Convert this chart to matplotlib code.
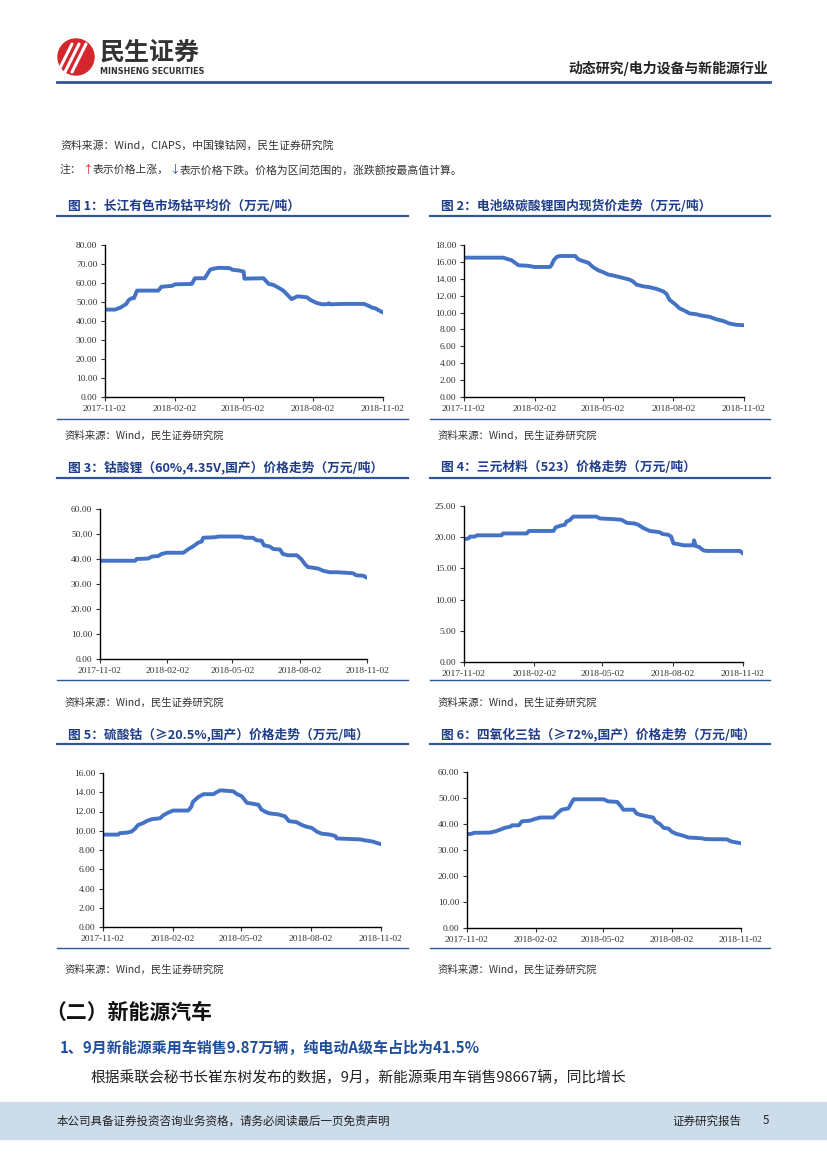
import numpy as np
import pandas as pd
import matplotlib
matplotlib.use("Agg")
import matplotlib.pyplot as plt
from matplotlib.patches import Circle, Rectangle

plt.rcParams['font.family'] = ['Noto Sans CJK SC', 'DejaVu Sans']

W, H = 827, 1169
start = pd.Timestamp('2017-11-02')
tick_dates = ['2017-11-02', '2018-02-02', '2018-05-02', '2018-08-02', '2018-11-02']

# 图1 长江有色市场钴平均价
days1 = [0, 13, 20, 22, 28, 31, 35, 38, 42, 70, 74, 88, 92, 114, 118, 131, 138, 142, 149, 164,
         167, 177, 182, 183, 208, 215, 221, 228, 234, 239, 245, 250, 253, 265, 270, 278, 285,
         291, 294, 296, 313, 340, 346, 351, 355, 359, 365]
vals1 = [46, 46, 47, 47.5, 49, 51, 52, 52, 56, 56, 58, 58.5, 59.3, 59.5, 62.5, 62.5, 67, 67.5, 68,
         67.8, 67, 66.5, 66, 62.3, 62.5, 59.5, 59, 57.5, 56, 54, 51.5, 52.5, 53, 52.5, 51, 49.5,
         48.8, 48.8, 49.3, 48.8, 49, 49, 48, 47, 46.7, 45.7, 44.5]

# 图2 电池级碳酸锂
days2 = [0, 51, 58, 62, 68, 71, 82, 86, 92, 112, 114, 117, 121, 125, 145, 149, 155, 162, 168,
         175, 181, 188, 194, 203, 216, 220, 225, 234, 242, 251, 260, 264, 268, 275, 281, 288,
         294, 303, 309, 320, 329, 338, 346, 355, 365]
vals2 = [16.5, 16.5, 16.3, 16.2, 15.8, 15.6, 15.55, 15.5, 15.4, 15.4, 15.6, 16.2, 16.6, 16.7,
         16.7, 16.3, 16.1, 15.9, 15.4, 15.0, 14.8, 14.5, 14.4, 14.2, 13.9, 13.7, 13.3, 13.1,
         13.0, 12.8, 12.5, 12.2, 11.5, 11.0, 10.5, 10.2, 9.9, 9.8, 9.65, 9.5, 9.2, 9.0, 8.7,
         8.55, 8.5]

# 图3 钴酸锂
days3 = [0, 48, 50, 66, 71, 80, 84, 91, 114, 121, 127, 134, 139, 141, 157, 162, 193, 198, 209,
         214, 221, 224, 232, 237, 246, 250, 257, 269, 275, 280, 284, 298, 305, 314, 325, 346,
         350, 360, 365]
vals3 = [39.3, 39.3, 40, 40.2, 41, 41.2, 42, 42.5, 42.5, 44, 45, 46.5, 47, 48.5, 48.7, 49, 49,
         48.5, 48.5, 47.5, 47.3, 45.5, 45, 44, 43.8, 42, 41.5, 41.5, 40, 38, 36.8, 36.2, 35.3,
         34.7, 34.7, 34.3, 33.5, 33.3, 32.5]

# 图4 三元材料(523)
days4 = [0, 6, 8, 14, 17, 49, 51, 82, 85, 117, 120, 128, 132, 134, 138, 143, 173, 178, 195,
         206, 213, 223, 228, 234, 243, 256, 260, 267, 271, 274, 280, 287, 300, 301, 303, 308,
         313, 317, 361, 365]
vals4 = [19.7, 19.8, 20.1, 20.1, 20.3, 20.3, 20.6, 20.6, 21, 21, 21.6, 21.9, 22, 22.5, 22.7,
         23.3, 23.3, 23.0, 22.9, 22.8, 22.3, 22.2, 22.0, 21.5, 21.0, 20.8, 20.5, 20.4, 20.1,
         19.0, 18.9, 18.7, 18.7, 19.5, 18.6, 18.4, 17.9, 17.8, 17.8, 17.4]

# 图5 硫酸钴
days5 = [0, 20, 22, 31, 37, 42, 46, 53, 57, 64, 75, 79, 86, 92, 112, 116, 118, 125, 132, 145,
         149, 154, 171, 176, 182, 189, 197, 204, 208, 215, 219, 230, 239, 244, 254, 261, 268,
         274, 281, 287, 298, 305, 307, 338, 344, 353, 365]
vals5 = [9.6, 9.6, 9.75, 9.8, 9.9, 10.2, 10.6, 10.8, 11.0, 11.2, 11.3, 11.6, 11.9, 12.1, 12.1,
         12.5, 13.0, 13.5, 13.8, 13.8, 14.0, 14.2, 14.1, 13.8, 13.6, 12.9, 12.8, 12.7, 12.2,
         11.9, 11.8, 11.7, 11.5, 11.0, 10.9, 10.6, 10.4, 10.3, 9.9, 9.7, 9.6, 9.45, 9.2, 9.1,
         9.0, 8.9, 8.6]

# 图6 四氧化三钴
days6 = [0, 7, 9, 31, 38, 44, 51, 58, 60, 69, 73, 84, 91, 98, 115, 120, 126, 135, 140, 142,
         182, 188, 200, 206, 208, 222, 226, 231, 239, 248, 251, 257, 262, 268, 273, 279, 288,
         295, 302, 313, 317, 346, 353, 365]
vals6 = [36, 36.3, 36.6, 36.7, 37.2, 37.8, 38.6, 39.0, 39.5, 39.5, 41.0, 41.3, 42, 42.5, 42.5,
         44, 45.5, 46, 48.5, 49.5, 49.5, 48.7, 48.5, 46.5, 45.5, 45.5, 44, 43.5, 43, 42.5, 41,
         40, 38.5, 38.3, 37, 36.2, 35.5, 34.8, 34.7, 34.5, 34.2, 34.1, 33.2, 32.6]

titles = ['图 1：长江有色市场钴平均价（万元/吨）',
          '图 2：电池级碳酸锂国内现货价走势（万元/吨）',
          '图 3：钴酸锂（60%,4.35V,国产）价格走势（万元/吨）',
          '图 4：三元材料（523）价格走势（万元/吨）',
          '图 5：硫酸钴（≥20.5%,国产）价格走势（万元/吨）',
          '图 6：四氧化三钴（≥72%,国产）价格走势（万元/吨）']
source = '资料来源：Wind，民生证券研究院'

charts = [
    (days1, vals1, 80, 10, (105, 245, 383, 397)),
    (days2, vals2, 18, 2, (464, 245, 744, 397)),
    (days3, vals3, 60, 10, (100, 509, 367, 659)),
    (days4, vals4, 25, 5, (464, 506, 743, 662)),
    (days5, vals5, 16, 2, (103, 773, 381, 927)),
    (days6, vals6, 60, 10, (467, 772, 741, 928)),
]

fig = plt.figure(figsize=(W / 100, H / 100), dpi=100)
ov = fig.add_axes([0, 0, 1, 1])
ov.set_xlim(0, W)
ov.set_ylim(H, 0)
ov.axis('off')

blue_dk = '#1f3d8a'
line_blue = '#2e5597'

# 页眉
ov.add_patch(Circle((76, 57), 18, color='#d4262c'))
for dx in (-8, -1, 6):
    ov.plot([66 + dx, 80 + dx], [72, 44], color='white', lw=2.2, solid_capstyle='round')
ov.text(100, 53, '民生证券', fontsize=18, weight='bold', color='#333333', va='center')
ov.text(100, 71, 'MINSHENG SECURITIES', fontsize=5.8, weight='bold', color='#333333',
        va='center', family='DejaVu Sans')
ov.text(768, 68, '动态研究/电力设备与新能源行业', fontsize=10, weight='bold', color='#222222',
        ha='right', va='center')
ov.plot([57, 770], [82, 82], color=line_blue, lw=2)

# 顶部注释
ov.text(60, 145, '资料来源：Wind，CIAPS，中国镍钴网，民生证券研究院', fontsize=7.8,
        color='#333333', va='center')
r = fig.canvas.get_renderer()
x = 60
for s, c in [('注：', '#333333'), ('↑', '#e02020'), ('表示价格上涨，', '#333333'),
             ('↓', '#2050c0'), ('表示价格下跌。价格为区间范围的，涨跌额按最高值计算。', '#333333')]:
    t = ov.text(x, 170, s, fontsize=7.8, color=c, va='center')
    x += t.get_window_extent(renderer=r).width

# 图表
title_y = [206, 206, 467, 467, 734, 734]
under_y = [216, 216, 478, 478, 744, 744]
bottom_y = [419, 419, 680, 680, 948, 948]
src_y = [436, 436, 703, 703, 970, 970]
for i, (d, v, ymax, step, box) in enumerate(charts):
    col = i % 2
    x0, x1 = (57, 408) if col == 0 else (430, 770)
    ov.text(x0 + 11, title_y[i], titles[i], fontsize=9.2, weight='bold', color=blue_dk,
            va='center')
    ov.plot([x0, x1], [under_y[i], under_y[i]], color=line_blue, lw=1.6)
    ov.plot([x0, x1], [bottom_y[i], bottom_y[i]], color=line_blue, lw=1.0)
    ov.text(x0 + 8, src_y[i], source, fontsize=7.5, color='#333333', va='center')

    l, t_, rr, b = box
    ax = fig.add_axes([l / W, 1 - b / H, (rr - l) / W, (b - t_) / H])
    dates = start + pd.to_timedelta(d, unit='D')
    ax.plot(dates, v, color='#4472c4', lw=2.8, solid_joinstyle='round')
    ax.set_xlim(pd.Timestamp(tick_dates[0]), pd.Timestamp(tick_dates[-1]))
    ax.set_ylim(0, ymax)
    ax.set_yticks(np.arange(0, ymax + 0.01, step))
    ax.set_yticklabels(['%.2f' % y for y in np.arange(0, ymax + 0.01, step)])
    ax.set_xticks([pd.Timestamp(s) for s in tick_dates])
    ax.set_xticklabels(tick_dates)
    for sp in ('top', 'right'):
        ax.spines[sp].set_visible(False)
    for sp in ('left', 'bottom'):
        ax.spines[sp].set_linewidth(1.0)
    ax.tick_params(length=3, width=0.8, pad=2.5, labelsize=6.8, colors='#333333')
    for lab in ax.get_xticklabels() + ax.get_yticklabels():
        lab.set_family('Liberation Serif')
    ax.patch.set_alpha(0)

# 正文
ov.text(45, 1012, '（二）新能源汽车', fontsize=15, weight='bold', color='#111111', va='center')
ov.text(60, 1048, '1、9月新能源乘用车销售9.87万辆，纯电动A级车占比为41.5%', fontsize=10.8,
        weight='bold', color='#1f4e9a', va='center')
ov.text(90, 1078, '根据乘联会秘书长崔东树发布的数据，9月，新能源乘用车销售98667辆，同比增长',
        fontsize=10.6, color='#222222', va='center')

# 页脚
ov.add_patch(Rectangle((0, 1102), W, 37, color='#cddcea', zorder=0))
ov.text(57, 1121, '本公司具备证券投资咨询业务资格，请务必阅读最后一页免责声明', fontsize=8.3,
        color='#222222', va='center')
ov.text(672, 1121, '证券研究报告', fontsize=8.3, color='#222222', va='center')
ov.text(763, 1121, '5', fontsize=8.3, color='#222222', va='center')

fig.savefig('out.png', dpi=100)
